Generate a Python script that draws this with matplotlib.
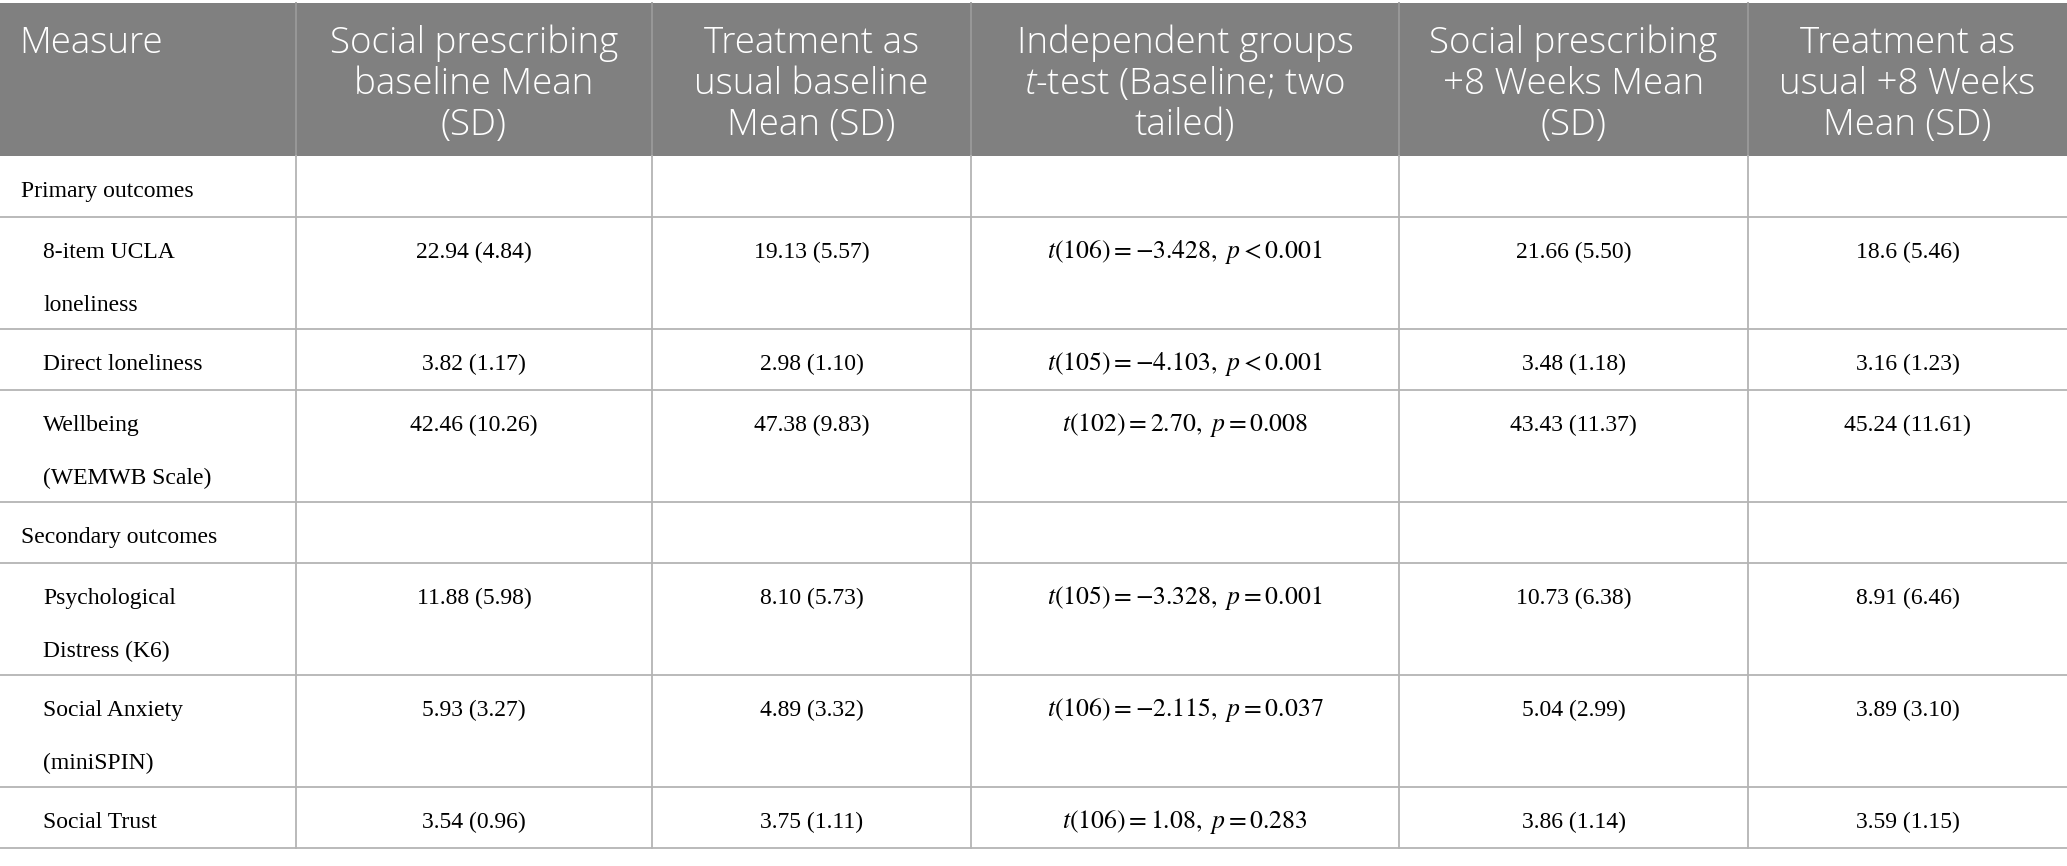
import matplotlib.pyplot as plt
from matplotlib.patches import Rectangle

plt.rcParams["mathtext.fontset"] = "stix"
plt.rcParams["mathtext.it"] = "Open Sans:italic:light"
plt.rcParams["mathtext.rm"] = "Open Sans:light"

# ---------------------------------------------------------
# table content
# ---------------------------------------------------------

headers = [
    ["Measure"],
    ["Social prescribing", "baseline Mean", "(SD)"],
    ["Treatment as", "usual baseline", "Mean (SD)"],
    ["Independent groups", "$t$-test (Baseline; two", "tailed)"],
    ["Social prescribing", "+8 Weeks Mean", "(SD)"],
    ["Treatment as", "usual +8 Weeks", "Mean (SD)"],
]

sections = ["Primary outcomes", "Secondary outcomes"]

primary_measures = [["8-item UCLA", "loneliness"], ["Direct loneliness"],
                    ["Wellbeing", "(WEMWB Scale)"]]
secondary_measures = [["Psychological", "Distress (K6)"], ["Social Anxiety", "(miniSPIN)"],
                      ["Social Trust"]]

sp_baseline = ["22.94 (4.84)", "3.82 (1.17)", "42.46 (10.26)",
               "11.88 (5.98)", "5.93 (3.27)", "3.54 (0.96)"]
tau_baseline = ["19.13 (5.57)", "2.98 (1.10)", "47.38 (9.83)",
                "8.10 (5.73)", "4.89 (3.32)", "3.75 (1.11)"]
t_tests = [
    r"$t(106)=-3.428,\ p<0.001$",
    r"$t(105)=-4.103,\ p<0.001$",
    r"$t(102)=2.70,\ p=0.008$",
    r"$t(105)=-3.328,\ p=0.001$",
    r"$t(106)=-2.115,\ p=0.037$",
    r"$t(106)=1.08,\ p=0.283$",
]
sp_8weeks = ["21.66 (5.50)", "3.48 (1.18)", "43.43 (11.37)",
             "10.73 (6.38)", "5.04 (2.99)", "3.86 (1.14)"]
tau_8weeks = ["18.6 (5.46)", "3.16 (1.23)", "45.24 (11.61)",
              "8.91 (6.46)", "3.89 (3.10)", "3.59 (1.15)"]

# ---------------------------------------------------------
# layout (pixels)
# ---------------------------------------------------------

W, H = 2067, 866
col_edges = [0, 296, 652, 971, 1399, 1748, 2067]
header_top, header_bottom = 3, 156
single_h, double_h = 61, 112
header_line_gap = 41
body_line_gap = 53

grid_color = "#b4b4b4"
header_color = "#808080"
serif = "Liberation Serif"
sans = "Open Sans"
body_size = 17
ttest_size = 18.5
header_size = 26.5

fig = plt.figure(figsize=(W / 100, H / 100), dpi=100)
ax = fig.add_axes([0, 0, 1, 1])
ax.set_xlim(0, W)
ax.set_ylim(H, 0)
ax.axis("off")

# header
ax.add_patch(Rectangle((0, header_top), W, header_bottom - header_top,
                       facecolor=header_color, edgecolor="none"))
for i, lines in enumerate(headers):
    x0, x1 = col_edges[i], col_edges[i + 1]
    for k, line in enumerate(lines):
        yb = header_top + 50 + k * header_line_gap
        if i == 0:
            ax.text(x0 + 19, yb, line, color="white", fontsize=header_size,
                    family=sans, weight="light", ha="left", va="baseline")
        else:
            ax.text((x0 + x1) / 2, yb, line, color="white", fontsize=header_size,
                    family=sans, weight="light", ha="center", va="baseline",
                    math_fontfamily="custom")

# body rows
rows = [("section", [sections[0]], None)]
for k, m in enumerate(primary_measures):
    rows.append(("measure", m, k))
rows.append(("section", [sections[1]], None))
for k, m in enumerate(secondary_measures):
    rows.append(("measure", m, k + len(primary_measures)))

columns = [sp_baseline, tau_baseline, t_tests, sp_8weeks, tau_8weeks]

y = header_bottom
for kind, label, idx in rows:
    h = double_h if len(label) > 1 else single_h
    yb = y + 41
    if kind == "section":
        ax.text(21, yb, label[0], fontsize=body_size, family=serif,
                ha="left", va="baseline")
    else:
        for k, line in enumerate(label):
            ax.text(43, yb + k * body_line_gap, line, fontsize=body_size, family=serif,
                    ha="left", va="baseline")
        for c, values in enumerate(columns):
            xc = (col_edges[c + 1] + col_edges[c + 2]) / 2
            size = ttest_size if values is t_tests else body_size
            ax.text(xc, yb, values[idx], fontsize=size, family=serif,
                    ha="center", va="baseline")
    y += h
    ax.plot([0, W], [y, y], color=grid_color, lw=1.3)

# vertical grid lines
for x in col_edges[1:-1]:
    ax.plot([x, x], [header_top, header_bottom], color="#9a9a9a", lw=1.3)
    ax.plot([x, x], [header_bottom, y], color=grid_color, lw=1.3)

fig.savefig("out.png", dpi=100)
